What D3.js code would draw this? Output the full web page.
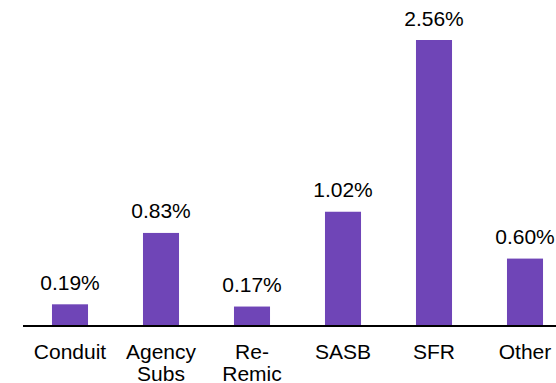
<!DOCTYPE html>
<html>
<head>
<meta charset="utf-8">
<script src="https://cdn.jsdelivr.net/npm/d3@7"></script>
<style>
  body { margin: 0; background: #fff; }
  svg text { font-family: "Liberation Sans", Arial, sans-serif; fill: #000; }
</style>
</head>
<body>
<div id="chart"></div>
<script>
var categories = ["Conduit", "Agency Subs", "Re- Remic", "SASB", "SFR", "Other"];
var categoryLines = [["Conduit"], ["Agency", "Subs"], ["Re-", "Remic"], ["SASB"], ["SFR"], ["Other"]];
var values = [0.19, 0.83, 0.17, 1.02, 2.56, 0.60];
var valueLabels = ["0.19%", "0.83%", "0.17%", "1.02%", "2.56%", "0.60%"];

var width = 556, height = 383;

var svg = d3.select("#chart")
    .append("svg")
    .attr("width", width)
    .attr("height", height);

var x = d3.scaleBand()
    .domain(categories)
    .range([24.5, 570.5])
    .paddingInner(0.604)
    .paddingOuter(0.302);

var y = d3.scaleLinear()
    .domain([0, 2.56])
    .range([325.5, 40]);

// bars
svg.selectAll("rect.bar")
    .data(values)
    .enter()
    .append("rect")
      .attr("class", "bar")
      .attr("x", function (d, i) { return x(categories[i]); })
      .attr("y", function (d) { return y(d); })
      .attr("width", x.bandwidth())
      .attr("height", function (d) { return y(0) - y(d); })
      .style("fill", "#6f45b7");

// baseline
svg.append("line")
    .attr("x1", 23)
    .attr("x2", width)
    .attr("y1", y(0) + 0.5)
    .attr("y2", y(0) + 0.5)
    .style("stroke", "#000")
    .style("stroke-width", 2);

// value labels
svg.selectAll("text.val")
    .data(values)
    .enter()
    .append("text")
      .attr("class", "val")
      .attr("x", function (d, i) { return x(categories[i]) + x.bandwidth() / 2; })
      .attr("y", function (d) { return y(d) - 14.5; })
      .attr("text-anchor", "middle")
      .attr("font-size", "21px")
      .text(function (d, i) { return valueLabels[i]; });

// category labels
var cat = svg.selectAll("text.cat")
    .data(categories)
    .enter()
    .append("text")
      .attr("class", "cat")
      .attr("x", function (d) { return x(d) + x.bandwidth() / 2; })
      .attr("y", 359)
      .attr("text-anchor", "middle")
      .attr("font-size", "21px");

cat.selectAll("tspan")
    .data(function (d, i) { return categoryLines[i]; })
    .enter()
    .append("tspan")
      .attr("x", function () { return d3.select(this.parentNode).attr("x"); })
      .attr("dy", function (d, i) { return i === 0 ? 0 : 21.5; })
      .text(function (d) { return d; });
</script>
</body>
</html>
